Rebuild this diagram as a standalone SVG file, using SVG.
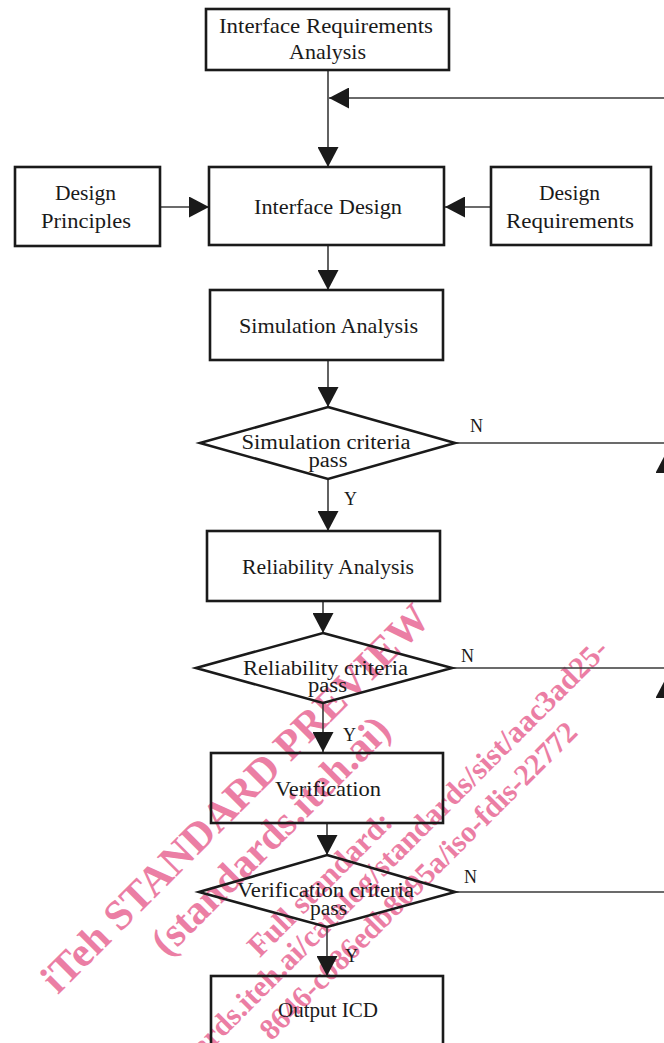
<svg xmlns="http://www.w3.org/2000/svg" width="664" height="1043" viewBox="0 0 664 1043">
<defs>
<marker id="ah" viewBox="0 0 20 21" refX="20" refY="10.5" markerWidth="20" markerHeight="21" markerUnits="userSpaceOnUse" orient="auto">
<path d="M0,0 L20,10.5 L0,21 Z" fill="#1a1a1a"/>
</marker>
<style>
.box{fill:none;stroke:#1a1a1a;stroke-width:2.6}
.t{font-family:"Liberation Serif","Times New Roman",serif;font-size:21px;fill:#1a1a1a;text-anchor:middle}
.d{font-size:20px}
.lbl{font-family:"Liberation Serif","Times New Roman",serif;font-size:18px;fill:#1a1a1a}
.c{fill:none;stroke:#3a3a3a;stroke-width:1.6}
.wm{font-family:"Liberation Serif","Times New Roman",serif;font-weight:bold;fill:#eb7ea4;text-anchor:middle}
</style>
</defs>
<rect x="0" y="0" width="664" height="1043" fill="#fff"/>
<g id="watermark">
<text class="wm" x="245" y="808" font-size="42" transform="rotate(-45 245 808)">iTeh STANDARD PREVIEW</text>
<text class="wm" x="280" y="845" font-size="41" transform="rotate(-45 280 845)">(standards.iteh.ai)</text>
<text class="wm" x="327" y="891" font-size="31" transform="rotate(-45 327 891)">Full standard:</text>
<text class="wm" x="348" y="913" font-size="30.5" transform="rotate(-45 348 913)">https://standards.iteh.ai/catalog/standards/sist/aac3ad25-</text>
<text class="wm" x="579" y="734" font-size="30" style="text-anchor:end" transform="rotate(-45 579 734)">8646-c086edb8095a/iso-fdis-22772</text>
</g>
<g id="connectors">
<line class="c" x1="328" y1="70" x2="328" y2="167" marker-end="url(#ah)"/>
<path class="c" d="M666,892 V98 H329" marker-end="url(#ah)"/>
<line class="c" x1="160" y1="207" x2="209" y2="207" marker-end="url(#ah)"/>
<line class="c" x1="491" y1="207" x2="445" y2="207" marker-end="url(#ah)"/>
<line class="c" x1="328" y1="245" x2="328" y2="290" marker-end="url(#ah)"/>
<line class="c" x1="328" y1="360" x2="328" y2="407" marker-end="url(#ah)"/>
<line class="c" x1="328" y1="479" x2="328" y2="531" marker-end="url(#ah)"/>
<line class="c" x1="323" y1="601" x2="323" y2="633" marker-end="url(#ah)"/>
<line class="c" x1="323" y1="703" x2="323" y2="752" marker-end="url(#ah)"/>
<line class="c" x1="327" y1="823" x2="327" y2="855" marker-end="url(#ah)"/>
<line class="c" x1="327" y1="927" x2="327" y2="976" marker-end="url(#ah)"/>
<line class="c" x1="455" y1="443" x2="666" y2="443"/>
<line class="c" x1="452" y1="668" x2="666" y2="668"/>
<line class="c" x1="455" y1="892" x2="666" y2="892"/>
<line class="c" x1="666" y1="476" x2="666" y2="453" marker-end="url(#ah)"/>
<line class="c" x1="666" y1="700" x2="666" y2="678" marker-end="url(#ah)"/>
<text class="lbl" x="470" y="432">N</text>
<text class="lbl" x="461" y="662">N</text>
<text class="lbl" x="464" y="883">N</text>
<text class="lbl" x="344" y="505">Y</text>
<text class="lbl" x="343" y="741">Y</text>
<text class="lbl" x="345" y="962">Y</text>
</g>
<g id="n-ira">
<rect class="box" x="206" y="9" width="243" height="61"/>
<text class="t" x="326" y="33" textLength="214" lengthAdjust="spacingAndGlyphs">Interface Requirements</text>
<text class="t" x="327.5" y="59" textLength="77" lengthAdjust="spacingAndGlyphs">Analysis</text>
</g>
<g id="n-dp">
<rect class="box" x="15" y="167" width="145" height="79"/>
<text class="t" x="85.5" y="200" textLength="61" lengthAdjust="spacingAndGlyphs">Design</text>
<text class="t" x="86" y="228" textLength="90" lengthAdjust="spacingAndGlyphs">Principles</text>
</g>
<g id="n-id">
<rect class="box" x="209" y="167" width="235" height="78"/>
<text class="t" x="328" y="214" textLength="148" lengthAdjust="spacingAndGlyphs">Interface Design</text>
</g>
<g id="n-dr">
<rect class="box" x="491" y="167" width="160" height="78"/>
<text class="t" x="569.5" y="200" textLength="61" lengthAdjust="spacingAndGlyphs">Design</text>
<text class="t" x="570" y="228" textLength="128" lengthAdjust="spacingAndGlyphs">Requirements</text>
</g>
<g id="n-sa">
<rect class="box" x="210" y="290" width="233" height="70"/>
<text class="t" x="328.5" y="333" textLength="179" lengthAdjust="spacingAndGlyphs">Simulation Analysis</text>
</g>
<g id="n-sc">
<polygon class="box" points="328,407 455,443 328,479 200,443"/>
<text class="t d" x="326" y="449" textLength="169" lengthAdjust="spacingAndGlyphs">Simulation criteria</text>
<text class="t d" x="328" y="467" textLength="39" lengthAdjust="spacingAndGlyphs">pass</text>
</g>
<g id="n-ra">
<rect class="box" x="207" y="531" width="233" height="70"/>
<text class="t" x="328" y="574" textLength="172" lengthAdjust="spacingAndGlyphs">Reliability Analysis</text>
</g>
<g id="n-rc">
<polygon class="box" points="323,633 452,668 323,703 196,668"/>
<text class="t d" x="325.5" y="675" textLength="165" lengthAdjust="spacingAndGlyphs">Reliability criteria</text>
<text class="t d" x="327.5" y="692" textLength="39" lengthAdjust="spacingAndGlyphs">pass</text>
</g>
<g id="n-v">
<rect class="box" x="211" y="753" width="232" height="70"/>
<text class="t" x="328" y="796" textLength="106" lengthAdjust="spacingAndGlyphs">Verification</text>
</g>
<g id="n-vc">
<polygon class="box" points="327,855 455,892 327,927 199,892"/>
<text class="t d" x="325.5" y="897" textLength="177" lengthAdjust="spacingAndGlyphs">Verification criteria</text>
<text class="t d" x="328.5" y="915" textLength="37" lengthAdjust="spacingAndGlyphs">pass</text>
</g>
<g id="n-out">
<rect class="box" x="211" y="976" width="232" height="80"/>
<text class="t" x="328" y="1017" textLength="100" lengthAdjust="spacingAndGlyphs">Output ICD</text>
</g>
</svg>
